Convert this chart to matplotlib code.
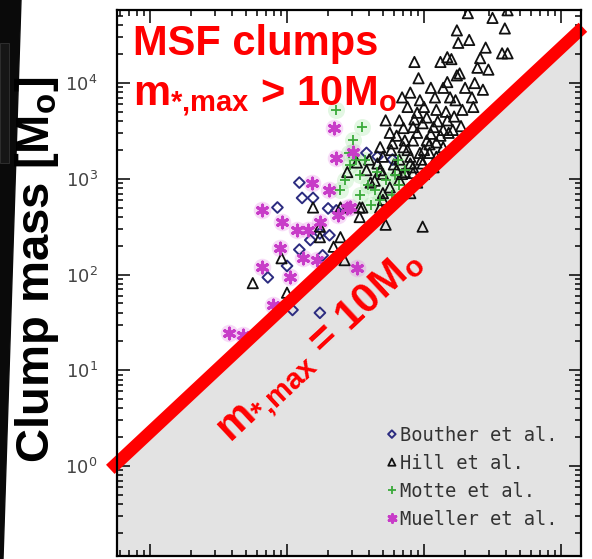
import numpy as np
import matplotlib.pyplot as plt
from matplotlib.patches import Polygon, Rectangle
from matplotlib.ticker import LogLocator, NullFormatter

plt.rcParams['mathtext.fontset'] = 'custom'
plt.rcParams['mathtext.rm'] = 'Liberation Sans:bold'
plt.rcParams['mathtext.bf'] = 'Liberation Sans:bold'
plt.rcParams['mathtext.it'] = 'Liberation Sans:bold'

# log10 of x quantity and of clump mass for each survey
hill_logx = [2.32, 2.50, 2.59, 2.24, 2.33, 2.25, 2.45, 2.57, 2.61, 1.93, 2.12, 2.17, 2.20, 2.41,
             2.39, 2.47, 1.96, 2.24, 2.17, 2.37, 2.43, 1.84, 1.97, 2.14, 2.19, 2.23, 2.35, 2.36,
             1.72, 1.88, 1.82, 1.95, 2.02, 2.09, 2.17, 1.75, 1.85, 1.92, 1.99, 2.07, 2.14, 2.21,
             1.77, 1.85, 1.92, 2.02, 2.09, 2.14, 1.97, 1.90, 2.04, 1.82, 1.92, 1.82, 1.86, 1.70,
             2.09, 1.51, 1.66, 1.90, 1.99, 2.07, 1.44, 1.58, 1.68, 1.80, 1.92, 1.95, 1.90, 1.75,
             1.61, 1.19, 1.39, 1.53, 1.68, 1.53, 1.70, 1.72, 1.99, 1.39, 1.24, 1.34, 1.68, 1.24,
             0.96, 0.75, 1.42, 1.00, 2.61, 1.55,
             1.80, 1.88, 1.95, 2.00, 2.05, 2.10, 2.12, 1.78, 1.86, 1.98, 2.04, 1.93, 2.00, 2.08,
             2.16, 2.22, 2.28, 2.30, 2.26, 2.05, 1.90, 1.76, 1.70, 1.64, 1.60, 2.18, 2.27, 1.84,
             2.00, 1.70]
hill_logm = [4.73, 4.68, 4.57, 4.55, 4.45, 4.42, 4.37, 4.31, 4.31, 4.22, 4.22, 4.27, 4.25, 4.26,
             4.16, 4.14, 4.05, 4.08, 4.01, 4.00, 3.93, 3.85, 3.82, 3.95, 3.85, 3.82, 3.85, 3.75,
             3.61, 3.75, 3.61, 3.69, 3.64, 3.72, 3.61, 3.48, 3.53, 3.54, 3.58, 3.54, 3.51, 3.51,
             3.37, 3.33, 3.40, 3.40, 3.38, 3.33, 3.27, 3.23, 3.27, 3.20, 3.12, 2.99, 3.07, 3.23,
             3.23, 3.17, 3.16, 3.16, 3.16, 3.12, 3.07, 3.09, 3.09, 3.09, 3.06, 2.96, 2.85, 2.91,
             2.96, 2.70, 2.70, 2.70, 2.70, 2.60, 2.78, 2.52, 2.50, 2.39, 2.39, 2.29, 3.33, 2.50,
             2.17, 1.91, 2.15, 1.81, 4.76, 2.70,
             3.45, 3.30, 3.48, 3.30, 3.47, 3.60, 3.45, 3.15, 3.40, 3.20, 3.36, 3.62, 3.75, 3.85,
             3.70, 3.65, 3.72, 3.95, 4.10, 3.95, 3.90, 3.30, 3.05, 2.98, 3.20, 3.48, 3.55, 3.05,
             3.05, 2.85]

bouther_logx = [1.09, 1.11, 0.93, 1.30, 1.17, 1.31, 1.09, 1.26, 1.00, 0.86, 1.04, 1.24, 1.66,
                1.77, 1.58, 1.19, 1.36, 1.24]
bouther_logm = [2.96, 2.80, 2.70, 2.69, 2.36, 2.41, 2.26, 2.20, 2.09, 1.97, 1.63, 1.60, 3.23,
                3.20, 3.27, 2.80, 2.67, 2.43]

motte_logx = [1.36, 1.55, 1.48, 1.45, 1.46, 1.53, 1.59, 1.64, 1.72, 1.79, 1.53, 1.68, 1.61,
              1.42, 1.77, 1.50, 1.39, 1.82, 1.86, 1.81, 1.57, 1.66]
motte_logm = [3.72, 3.54, 3.40, 3.27, 3.14, 3.04, 2.93, 2.88, 2.99, 3.04, 2.83, 2.78, 2.73,
              2.99, 2.83, 3.20, 2.88, 2.93, 3.09, 3.20, 3.20, 3.07]

mueller_logx = [1.34, 1.36, 1.48, 1.18, 1.31, 0.82, 0.96, 1.07, 1.15, 1.24, 0.95, 0.82, 1.02,
                1.12, 1.22, 1.51, 0.90, 0.58, 0.68, 1.44, 1.37, 1.46]
mueller_logm = [3.53, 3.22, 3.28, 2.96, 2.88, 2.67, 2.55, 2.46, 2.46, 2.55, 2.28, 2.08, 1.97,
                2.17, 2.15, 2.07, 1.68, 1.39, 1.37, 2.69, 2.62, 2.71]

# m_*,max = 10 Msun boundary (end points, log10)
line_logx = [-0.29, 3.16]
line_logm = [-0.035, 4.582]

labels = ['Bouther et al.', 'Hill et al.', 'Motte et al.', 'Mueller et al.']
mass_ticks = [1, 10, 100, 1000, 10000]

fig = plt.figure(figsize=(5.92, 5.59), dpi=100)
ax = fig.add_axes([117/592, 3/559, 464/592, 546.5/559])
ax.set_xscale('log')
ax.set_yscale('log')
ax.set_xlim(10**-0.241, 10**3.146)
ax.set_ylim(10**-0.94, 10**4.768)

lx = 10**np.array(line_logx)
lm = 10**np.array(line_logm)
ax.fill_between(lx, lm, 1e-3, color='#e3e3e3', lw=0, zorder=0.5)

# magenta and green points are smeared, draw a soft halo under them
ax.scatter(10**np.array(mueller_logx), 10**np.array(mueller_logm), marker='o', s=160,
           color='#e070e0', alpha=0.25, lw=0, zorder=1.5)
ax.scatter(10**np.array(motte_logx), 10**np.array(motte_logm), marker='o', s=150,
           color='#90e090', alpha=0.25, lw=0, zorder=1.5)

ax.scatter(10**np.array(bouther_logx), 10**np.array(bouther_logm), marker='D', s=30,
           facecolors='none', edgecolors='#2c2c80', lw=1.4, zorder=2, label=labels[0])
ax.scatter(10**np.array(hill_logx), 10**np.array(hill_logm), marker='^', s=55,
           facecolors='none', edgecolors='#111111', lw=1.3, zorder=2, label=labels[1])
ax.scatter(10**np.array(motte_logx), 10**np.array(motte_logm), marker='+', s=60,
           color='#3aaa3a', lw=1.3, zorder=2, label=labels[2])
ax.scatter(10**np.array(mueller_logx), 10**np.array(mueller_logm), marker=(6, 2, 0), s=60,
           color='#c83cc8', lw=2.2, zorder=2, label=labels[3])

ax.plot(lx, lm, color='#ff0000', lw=9, solid_capstyle='butt', clip_on=False, zorder=3)

ax.xaxis.set_major_locator(LogLocator(base=10, numticks=10))
ax.xaxis.set_minor_locator(LogLocator(base=10, subs=np.arange(2, 10), numticks=20))
ax.set_yticks(mass_ticks)
ax.yaxis.set_minor_locator(LogLocator(base=10, subs=np.arange(2, 10), numticks=20))
ax.xaxis.set_minor_formatter(NullFormatter())
ax.yaxis.set_minor_formatter(NullFormatter())
ax.tick_params(which='both', direction='in', top=True, right=True, width=1.1,
               labelbottom=False, labelsize=13, labelcolor='#444444', pad=14)
ax.tick_params(which='major', length=9)
ax.tick_params(which='minor', length=4.5)
for s in ax.spines.values():
    s.set_linewidth(1.6)
    s.set_zorder(4)

leg = ax.legend(loc='lower right', bbox_to_anchor=(0.95, 0.05), frameon=False,
                borderaxespad=0, borderpad=0, handlelength=0.5, handletextpad=0.2,
                labelspacing=0.48, markerscale=0.7, scatteryoffsets=[0.5],
                prop={'family': 'DejaVu Sans Mono', 'size': 13.5})
for t in leg.get_texts():
    t.set_color('#333333')

red = dict(color='#ff0000', fontsize=30, fontweight='bold', family='Liberation Sans')
fig.text(133/592, 1 - 55/559, 'MSF clumps', va='baseline', ha='left', **red)
fig.text(133/592, 1 - 105/559, r'm$_{\mathbf{*{,}max}}$ > 10M$_{\mathbf{o}}$',
         va='baseline', ha='left', **red)
fig.text(320/592, 1 - 347/559, r'm$_{\mathbf{*{,}max}}$ = 10M$_{\mathbf{o}}$', rotation=43,
         rotation_mode='anchor', va='center', ha='center', **red)

fig.text(37/592, 1 - 270/559, r'Clump mass [M$_{\mathbf{o}}$]', rotation=90, va='center',
         ha='center', color='black', fontsize=34, fontweight='bold', family='Liberation Sans')

# dark strip along the left edge
fig.patches.append(Polygon([(0, 0), (3/592, 0), (21/592, 1), (0, 1)], closed=True,
                           transform=fig.transFigure, color='#0a0a0a', zorder=-1))
fig.patches.append(Rectangle((0, 1 - 163/559), 9/592, 120/559, transform=fig.transFigure,
                             facecolor='#161616', edgecolor='#333333', lw=0.6, zorder=-1))

fig.savefig('out.png', dpi=100)
